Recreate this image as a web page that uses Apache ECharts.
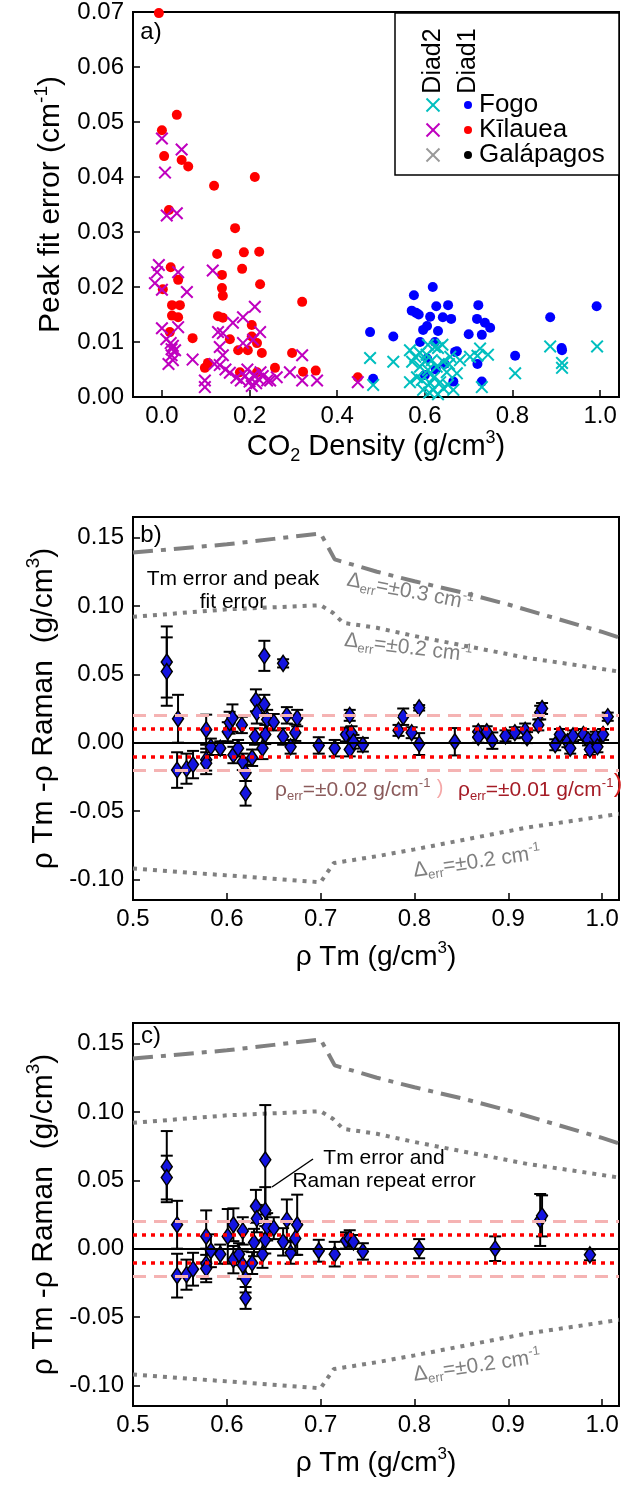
<!DOCTYPE html>
<html>
<head>
<meta charset="utf-8">
<script src="https://cdn.jsdelivr.net/npm/echarts@6/dist/echarts.min.js"></script>
<style>
  html, body { margin: 0; padding: 0; background: #fff; }
  #chart { width: 626px; height: 1491px; }
</style>
</head>
<body>
<div id="chart"></div>
<script>
// ---------- Panel a: peak fit error vs CO2 density ----------
const fogoDiad1 = [[0.992,0.0165],[0.886,0.0145],[0.912,0.0089],[0.913,0.0085],[0.806,0.0075],[0.618,0.020],[0.575,0.0185],[0.626,0.0165],[0.653,0.0167],[0.722,0.0167],[0.570,0.0157],[0.580,0.0153],[0.586,0.0150],[0.612,0.0146],[0.641,0.0145],[0.660,0.0142],[0.719,0.0142],[0.737,0.0135],[0.749,0.0126],[0.605,0.0129],[0.596,0.0122],[0.630,0.0120],[0.700,0.0114],[0.730,0.0113],[0.475,0.0118],[0.528,0.0110],[0.589,0.0100],[0.623,0.0100],[0.669,0.0082],[0.482,0.0033],[0.665,0.0028],[0.730,0.0028],[0.673,0.0083],[0.605,0.0070],[0.625,0.0050],[0.645,0.0060],[0.600,0.0040],[0.720,0.0060]];
const fogoDiad2 = [[0.993,0.0092],[0.886,0.0092],[0.913,0.0062],[0.913,0.0053],[0.806,0.0043],[0.475,0.0071],[0.528,0.0064],[0.726,0.0088],[0.744,0.0077],[0.720,0.0075],[0.482,0.0022],[0.730,0.0018],[0.566,0.0027],[0.566,0.0085],[0.578,0.0073],[0.589,0.0080],[0.604,0.0077],[0.616,0.0067],[0.630,0.0089],[0.642,0.0064],[0.658,0.0073],[0.589,0.0055],[0.607,0.0049],[0.627,0.0055],[0.650,0.0045],[0.593,0.0031],[0.612,0.0025],[0.635,0.0027],[0.653,0.0022],[0.582,0.0036],[0.596,0.0013],[0.619,0.0013],[0.642,0.0016],[0.665,0.0013],[0.571,0.0064],[0.703,0.0073],[0.680,0.0067],[0.607,0.0095],[0.623,0.0091],[0.673,0.0043],[0.600,0.0065],[0.620,0.0035],[0.640,0.0095],[0.610,0.0008],[0.630,0.0005],[0.655,0.0060]];
const kilaueaDiad1 = [[-0.007,0.0698],[0.034,0.0513],[0.000,0.0485],[0.005,0.0438],[0.045,0.0431],[0.060,0.0419],[0.119,0.0384],[0.212,0.0400],[0.016,0.0340],[0.167,0.0307],[0.126,0.0260],[0.187,0.0263],[0.222,0.0264],[0.183,0.0233],[0.137,0.0222],[0.224,0.0205],[0.020,0.0236],[0.037,0.0213],[0.002,0.0196],[0.137,0.0198],[0.139,0.0184],[0.320,0.0173],[0.023,0.0167],[0.041,0.0167],[0.023,0.0148],[0.037,0.0145],[0.128,0.0147],[0.139,0.0144],[0.205,0.0131],[0.018,0.0118],[0.070,0.0107],[0.155,0.0105],[0.205,0.0110],[0.217,0.0098],[0.174,0.0085],[0.196,0.0085],[0.228,0.0080],[0.297,0.0080],[0.105,0.0062],[0.098,0.0053],[0.258,0.0053],[0.322,0.0046],[0.351,0.0048],[0.178,0.0045],[0.217,0.0045],[0.447,0.0036]];
const kilaueaDiad2 = [[0.000,0.0470],[0.045,0.0450],[0.007,0.0408],[0.011,0.0330],[0.034,0.0334],[-0.007,0.0240],[-0.011,0.0227],[0.037,0.0227],[-0.016,0.0207],[0.000,0.0195],[0.057,0.0191],[0.116,0.0230],[0.212,0.0164],[0.185,0.0145],[0.000,0.0125],[0.037,0.0127],[0.128,0.0118],[0.139,0.0116],[0.162,0.0135],[0.224,0.0118],[0.020,0.0098],[0.025,0.0093],[0.022,0.0087],[0.022,0.0076],[0.025,0.0067],[0.070,0.0068],[0.132,0.0091],[0.139,0.0076],[0.185,0.0098],[0.208,0.0104],[0.098,0.0030],[0.098,0.0018],[0.132,0.0058],[0.320,0.0076],[0.292,0.0045],[0.320,0.0030],[0.354,0.0030],[0.447,0.0027],[0.262,0.0036],[0.247,0.0030],[0.155,0.0044],[0.170,0.0035],[0.180,0.0030],[0.190,0.0038],[0.200,0.0028],[0.210,0.0040],[0.215,0.0025],[0.220,0.0033],[0.230,0.0038],[0.240,0.0030],[0.195,0.0050],[0.205,0.0020],[0.225,0.0045],[0.120,0.0060],[0.145,0.0050],[0.015,0.0060],[0.030,0.0085],[0.010,0.0105]];
const aXTicks = [0.0, 0.2, 0.4, 0.6, 0.8, 1.0];
const aYTicks = [0.00, 0.01, 0.02, 0.03, 0.04, 0.05, 0.06, 0.07];

// ---------- Panels b and c: density difference vs Tm density ----------
const rhoTicksX = [0.5, 0.6, 0.7, 0.8, 0.9, 1.0];
const diffTicksY = [-0.10, -0.05, 0.00, 0.05, 0.10, 0.15];
// Raman shift uncertainty envelopes
const envUpper03 = [[0.5,0.139],[0.55,0.142],[0.6,0.145],[0.65,0.149],[0.70,0.153],[0.715,0.134],[0.76,0.125],[0.80,0.118],[0.85,0.110],[0.90,0.101],[0.95,0.091],[1.00,0.081],[1.018,0.077]];
const envUpper02 = [[0.5,0.092],[0.6,0.0975],[0.70,0.1005],[0.713,0.095],[0.724,0.0876],[0.76,0.084],[0.80,0.078],[0.86,0.070],[0.92,0.062],[0.97,0.057],[1.018,0.052]];
const envLower02 = [[0.5,-0.092],[0.6,-0.097],[0.70,-0.102],[0.714,-0.088],[0.76,-0.083],[0.80,-0.078],[0.86,-0.070],[0.92,-0.062],[0.97,-0.057],[1.018,-0.052]];
const densityBands = [0.01, 0.02];

// b) Tm error and peak fit error
const bTm   = [0.536,0.536,0.548,0.547,0.557,0.564,0.578,0.578,0.578,0.583,0.593,0.601,0.603,0.606,0.607,0.612,0.616,0.617,0.620,0.620,0.627,0.630,0.631,0.632,0.638,0.640,0.641,0.643,0.650,0.640,0.660,0.660,0.664,0.668,0.673,0.675,0.698,0.715,0.727,0.731,0.733,0.731,0.735,0.745,0.805,0.788,0.783,0.797,0.805,0.843,0.868,0.877,0.883,0.868,0.897,0.907,0.918,0.920,0.932,0.934,0.936,0.950,0.955,0.963,0.966,0.969,0.980,0.985,0.987,0.993,0.995,1.001,1.006];
const bDiff = [0.059,0.052,0.0175,-0.020,-0.019,-0.016,0.0095,-0.0124,-0.015,-0.003,-0.004,0.008,0.0146,0.018,-0.009,-0.004,0.013,-0.014,-0.022,-0.037,-0.011,0.0045,0.031,0.022,-0.004,0.028,0.006,0.017,0.015,0.0635,0.058,0.0045,0.020,-0.003,0.0073,0.018,-0.002,-0.004,0.006,0.020,0.007,-0.005,0.0007,-0.0015,0.0255,0.019,0.009,0.0073,-0.001,0.0007,0.008,0.008,0.0015,0.004,0.005,0.0073,0.009,0.0037,0.013,0.022,0.025,-0.0015,0.006,0.0007,-0.004,0.005,0.006,0.002,-0.005,0.004,-0.003,0.006,0.019];
const bErr  = [0.026,0.025,0.0175,0.013,0.011,0.010,0.011,0.008,0.008,0.006,0.005,0.007,0.008,0.010,0.006,0.006,0.006,0.006,0.006,0.009,0.006,0.006,0.008,0.008,0.008,0.007,0.007,0.007,0.006,0.011,0.003,0.006,0.006,0.005,0.006,0.006,0.006,0.006,0.005,0.004,0.005,0.005,0.005,0.005,0.002,0.006,0.004,0.004,0.008,0.010,0.004,0.004,0.006,0.004,0.004,0.004,0.005,0.004,0.004,0.005,0.004,0.004,0.004,0.004,0.004,0.004,0.004,0.004,0.004,0.004,0.004,0.004,0.003];

// c) Tm error and Raman repeat error
const cTm   = [0.536,0.536,0.547,0.547,0.557,0.564,0.578,0.578,0.578,0.583,0.593,0.601,0.607,0.607,0.613,0.617,0.617,0.620,0.620,0.627,0.629,0.631,0.632,0.638,0.641,0.641,0.643,0.650,0.641,0.660,0.664,0.668,0.673,0.675,0.698,0.715,0.727,0.731,0.735,0.745,0.805,0.886,0.934,0.936,0.987];
const cDiff = [0.060,0.052,0.0175,-0.0197,-0.019,-0.015,0.009,-0.011,-0.0145,-0.0015,-0.004,0.009,0.0175,-0.008,-0.004,0.013,-0.012,-0.022,-0.036,-0.0105,0.0045,0.031,0.022,-0.004,0.028,0.0065,0.016,0.015,0.065,0.005,0.021,-0.003,0.0075,0.0175,-0.0015,-0.004,0.006,0.0075,0.005,-0.002,0.000,0.000,0.021,0.024,-0.0045];
const cErr  = [0.026,0.016,0.0175,0.016,0.011,0.012,0.019,0.011,0.010,0.012,0.007,0.020,0.012,0.010,0.008,0.010,0.010,0.010,0.008,0.008,0.010,0.012,0.010,0.010,0.017,0.010,0.010,0.008,0.040,0.010,0.015,0.008,0.012,0.022,0.008,0.009,0.006,0.006,0.005,0.006,0.007,0.009,0.019,0.015,0.004];

// ---------- styling ----------
const FONT = '"Liberation Sans", Arial, sans-serif';
const TICK_FS = 24, TITLE_FS = 29, YTITLE_FS = 30, NOTE_FS = 21;
const X_MARK = 'path://M0,11L11,0L50,39L89,0L100,11L61,50L100,89L89,100L50,61L11,100L0,89L39,50Z';
const GREY = '#808080';

function richFor(size, color) {
  const lh = Math.round(size * 1.25);
  return {
    sub: { fontSize: Math.round(size * 0.62), fontFamily: FONT, color: color, fill: color, verticalAlign: 'bottom', lineHeight: lh },
    sup: { fontSize: Math.round(size * 0.62), fontFamily: FONT, color: color, fill: color, verticalAlign: 'top', lineHeight: lh },
    big: { fontSize: size, fontFamily: FONT, color: color, fill: color, lineHeight: lh }
  };
}

function grid(top, height) {
  return { left: 133, top: top, width: 486, height: height, show: true,
           borderColor: '#000', borderWidth: 2, backgroundColor: 'transparent',
           containLabel: false, outerBoundsMode: 'none' };
}

function xAxis(gi, min, max, ticks, dec, name, gap, nameSize) {
  const ns = nameSize || TITLE_FS;
  return {
    type: 'value', gridIndex: gi, min: min, max: max,
    axisLine: { show: true, onZero: false, lineStyle: { color: '#000', width: 2 } },
    axisTick: { show: true, inside: true, length: 7, customValues: ticks, lineStyle: { color: '#000', width: 1.5 } },
    axisLabel: { show: true, customValues: ticks, color: '#000', fontSize: TICK_FS, fontFamily: FONT, margin: 7,
                 formatter: v => v.toFixed(dec) },
    splitLine: { show: false },
    name: name, nameLocation: 'middle', nameGap: gap,
    nameTextStyle: { color: '#000', fontSize: ns, fontFamily: FONT, rich: richFor(ns, '#000') }
  };
}

function yAxis(gi, min, max, ticks, dec, name, gap) {
  const ax = xAxis(gi, min, max, ticks, dec, name, gap, YTITLE_FS);
  ax.nameRotate = 90;
  ax.axisLabel.margin = 9;
  return ax;
}

// error bars drawn through the axis scales
function errorBarRender(params, api) {
  const x = api.value(0), lo = api.value(1), hi = api.value(2);
  const p1 = api.coord([x, lo]);
  const p2 = api.coord([x, hi]);
  const w = 6;
  const st = { stroke: '#000', lineWidth: 2 };
  return {
    type: 'group',
    children: [
      { type: 'line', shape: { x1: p1[0], y1: p1[1], x2: p2[0], y2: p2[1] }, style: st },
      { type: 'line', shape: { x1: p1[0] - w, y1: p1[1], x2: p1[0] + w, y2: p1[1] }, style: st },
      { type: 'line', shape: { x1: p2[0] - w, y1: p2[1], x2: p2[0] + w, y2: p2[1] }, style: st }
    ]
  };
}

function envelopeSeries(gi) {
  const base = { type: 'line', xAxisIndex: gi, yAxisIndex: gi, showSymbol: false, silent: true, z: 1, clip: true };
  const s1 = Object.assign({}, base, { data: envUpper03, lineStyle: { color: GREY, width: 4, type: [20, 8, 5, 8], cap: 'butt' } });
  const s2 = Object.assign({}, base, { data: envUpper02, lineStyle: { color: GREY, width: 4, type: [4, 6], cap: 'butt' } });
  const s3 = Object.assign({}, base, { data: envLower02, lineStyle: { color: GREY, width: 4, type: [4, 6], cap: 'butt' } });
  const bandLines = [{ yAxis: 0, lineStyle: { color: '#000', width: 2, type: 'solid' } }];
  densityBands.forEach(v => {
    const isInner = v === densityBands[0];
    const style = isInner
      ? { color: '#ff0000', width: 3.5, type: [4, 5], cap: 'butt' }
      : { color: '#f5b3b3', width: 3, type: [13, 8], cap: 'butt' };
    bandLines.push({ yAxis: v, lineStyle: style });
    bandLines.push({ yAxis: -v, lineStyle: style });
  });
  s1.markLine = { silent: true, symbol: 'none', label: { show: false }, animation: false, data: bandLines };
  return [s1, s2, s3];
}

function pointSeries(gi, xs, ys, es) {
  const bars = xs.map((x, i) => [x, ys[i] - es[i], ys[i] + es[i]]);
  const pts = xs.map((x, i) => [x, ys[i]]);
  return [
    { type: 'custom', xAxisIndex: gi, yAxisIndex: gi, renderItem: errorBarRender, data: bars,
      encode: { x: 0, y: [1, 2] }, z: 3, silent: true, clip: true },
    { type: 'scatter', xAxisIndex: gi, yAxisIndex: gi, data: pts, symbol: 'diamond', symbolSize: [11, 16],
      itemStyle: { color: '#1414e0', borderColor: '#000', borderWidth: 1.5, opacity: 1 }, z: 4, silent: true }
  ];
}

function scatterA(data, color, isCross) {
  return {
    type: 'scatter', xAxisIndex: 0, yAxisIndex: 0, data: data,
    symbol: isCross ? X_MARK : 'circle', symbolSize: isCross ? 13 : 10,
    itemStyle: { color: color, opacity: 1 }, silent: true, clip: true
  };
}

// annotation text helper (graphic layer)
function note(x, y, text, size, color, rot, align) {
  return {
    type: 'text', x: x, y: y, rotation: rot || 0, z: 10,
    style: { text: text, fontSize: size, fontFamily: FONT, fill: color,
             align: align || 'center', verticalAlign: 'middle', lineHeight: Math.round(size * 1.1),
             rich: richFor(size, color) }
  };
}

function crossMark(cx, cy, color) {
  const h = 6.5;
  return [
    { type: 'line', shape: { x1: cx - h, y1: cy - h, x2: cx + h, y2: cy + h }, style: { stroke: color, lineWidth: 2 }, z: 11 },
    { type: 'line', shape: { x1: cx - h, y1: cy + h, x2: cx + h, y2: cy - h }, style: { stroke: color, lineWidth: 2 }, z: 11 }
  ];
}

const legendRows = [
  { name: 'Fogo', d2: '#00bfbf', d1: '#0000ff' },
  { name: 'Kīlauea', d2: '#bf00bf', d1: '#ff0000' },
  { name: 'Galápagos', d2: '#999999', d1: '#000000' }
];

const graphics = [];
// legend box
graphics.push({ type: 'rect', shape: { x: 395, y: 13, width: 224, height: 162 },
                style: { fill: '#fff', stroke: '#000', lineWidth: 1.5 }, z: 9 });
graphics.push(note(433, 61, 'Diad2', 25, '#000', Math.PI / 2));
graphics.push(note(468, 61, 'Diad1', 25, '#000', Math.PI / 2));
legendRows.forEach((r, i) => {
  const cy = 105 + i * 25;
  graphics.push(...crossMark(433, cy, r.d2));
  graphics.push({ type: 'circle', shape: { cx: 468, cy: cy, r: 4 }, style: { fill: r.d1 }, z: 11 });
  graphics.push(note(479, cy, r.name, 26, '#000', 0, 'left'));
});

// panel tags
graphics.push(note(151, 32, 'a)', 24, '#000', 0));
graphics.push(note(151, 535, 'b)', 24, '#000', 0));
graphics.push(note(151, 1036, 'c)', 24, '#000', 0));

// panel b notes
graphics.push(note(233, 591, 'Tm error and peak\nfit error', NOTE_FS, '#000', 0));
graphics.push(note(410, 592, '{big|Δ}{sub|err}=±0.3 cm{sup|-1}', NOTE_FS, GREY, -0.19));
graphics.push(note(408, 648, '{big|Δ}{sub|err}=±0.2 cm{sup|-1}', NOTE_FS, GREY, -0.12));
graphics.push(note(477, 862, '{big|Δ}{sub|err}=±0.2 cm{sup|-1}', NOTE_FS, GREY, 0.14));
graphics.push(note(275, 790, '{big|ρ}{sub|err}=±0.02 g/cm{sup|-1}', NOTE_FS, '#8b5b5b', 0, 'left'));
graphics.push(note(440, 788, ')', 20, '#f5a8a8', 0));
graphics.push(note(458, 790, '{big|ρ}{sub|err}=±0.01 g/cm{sup|-1}', NOTE_FS, '#a51c26', 0, 'left'));
graphics.push(note(618, 785, ')', 26, '#d01a1a', 0));

// panel c notes
graphics.push(note(384, 1170, 'Tm error and\nRaman repeat error', NOTE_FS, '#000', 0));
graphics.push({ type: 'line', shape: { x1: 313, y1: 1159, x2: 272, y2: 1187 }, style: { stroke: '#000', lineWidth: 1.5 }, z: 10 });
graphics.push(note(477, 1366, '{big|Δ}{sub|err}=±0.2 cm{sup|-1}', NOTE_FS, GREY, 0.14));

const rhoTitle = 'ρ Tm (g/cm{sup|3})';
const diffTitle = 'ρ Tm -ρ Raman  (g/cm{sup|3})';

const option = {
  animation: false,
  backgroundColor: '#fff',
  textStyle: { fontFamily: FONT },
  grid: [grid(12, 385), grid(517, 383), grid(1023, 383)],
  xAxis: [
    xAxis(0, -0.066, 1.043, aXTicks, 1, 'CO{sub|2} Density (g/cm{sup|3})', 26),
    xAxis(1, 0.5, 1.018, rhoTicksX, 1, rhoTitle, 40, 28),
    xAxis(2, 0.5, 1.018, rhoTicksX, 1, rhoTitle, 40, 28)
  ],
  yAxis: [
    yAxis(0, 0, 0.07, aYTicks, 2, 'Peak fit error (cm{sup|-1})', 63),
    yAxis(1, -0.115, 0.165, diffTicksY, 2, diffTitle, 63),
    yAxis(2, -0.115, 0.165, diffTicksY, 2, diffTitle, 63)
  ],
  series: [
    scatterA(kilaueaDiad1, '#ff0000', false),
    scatterA(kilaueaDiad2, '#bf00bf', true),
    scatterA(fogoDiad1, '#0000ff', false),
    scatterA(fogoDiad2, '#00bfbf', true),
    ...envelopeSeries(1),
    ...pointSeries(1, bTm, bDiff, bErr),
    ...envelopeSeries(2),
    ...pointSeries(2, cTm, cDiff, cErr)
  ],
  graphic: { elements: graphics }
};

const chart = echarts.init(document.getElementById('chart'), null, { renderer: 'canvas' });
chart.setOption(option);
</script>
</body>
</html>
